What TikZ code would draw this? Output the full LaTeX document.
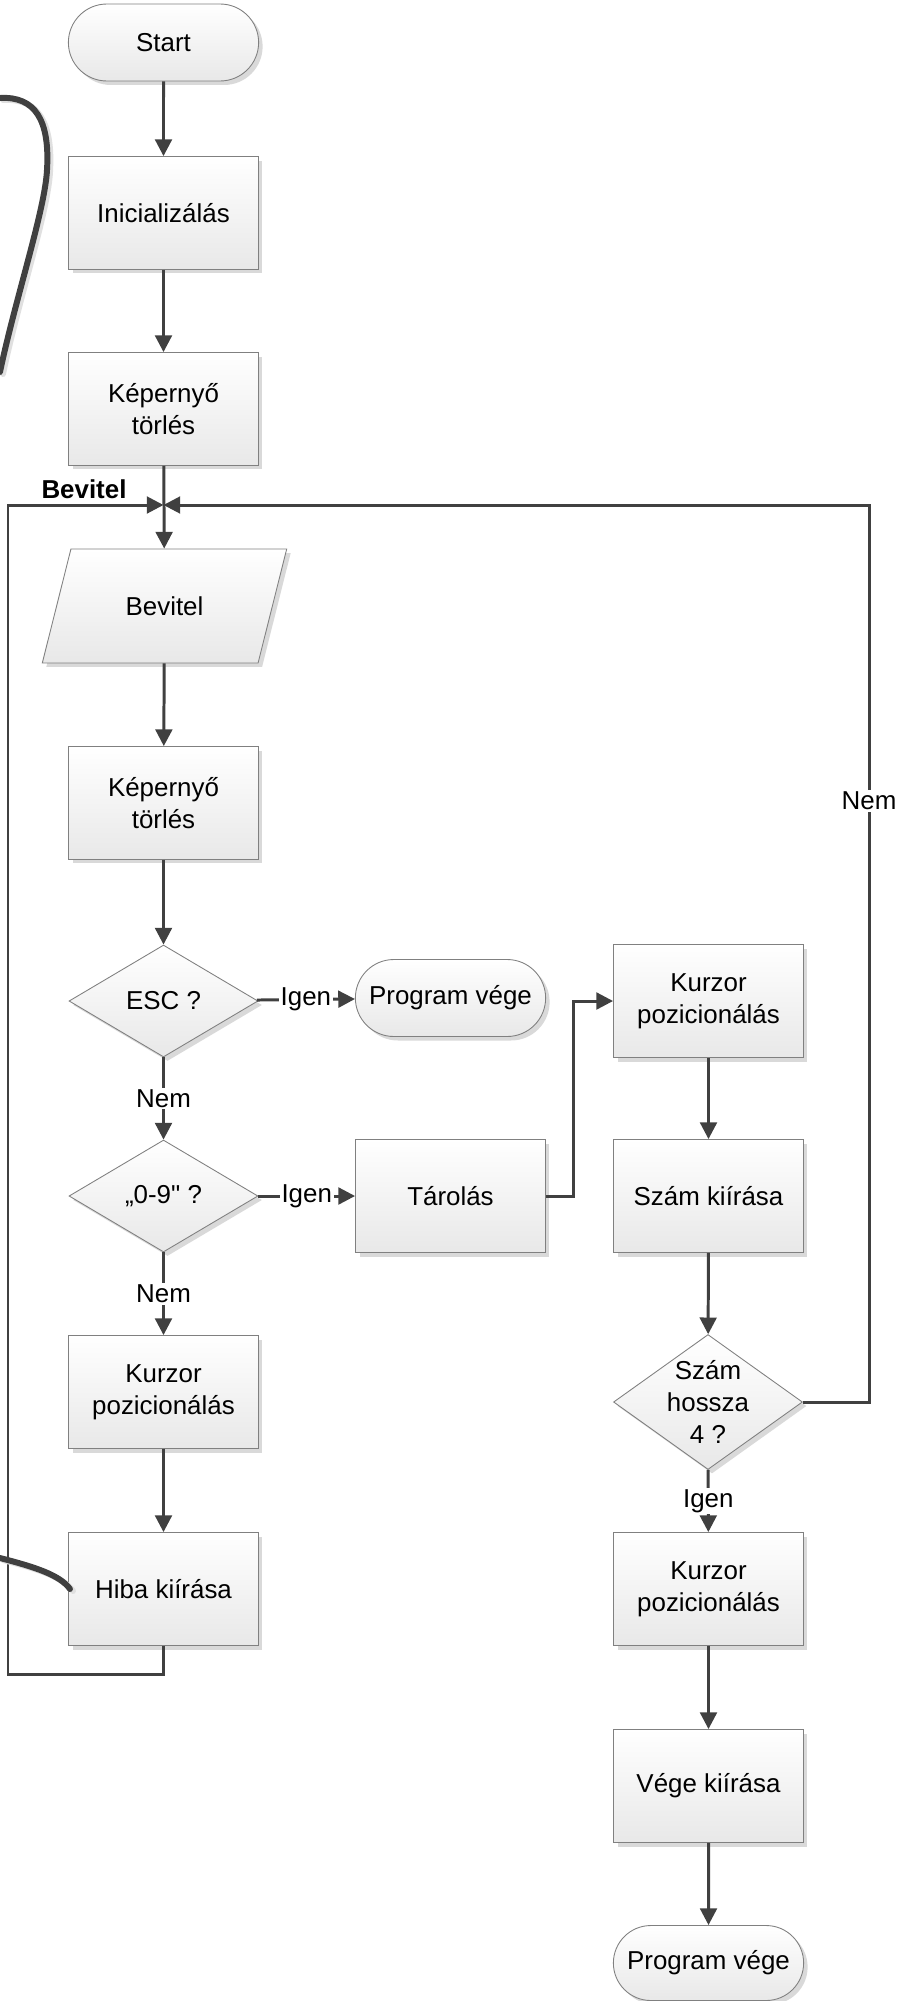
\documentclass[tikz,border=0pt]{standalone}
\usepackage{fontspec}
\setmainfont[Ligatures=TeXOff]{Liberation Sans}
\usetikzlibrary{shapes.geometric,shapes.misc,arrows.meta,shadows}
\definecolor{linegray}{HTML}{404040}
\definecolor{bordergray}{HTML}{808080}
\tikzset{
  base-node/.style  = {draw=bordergray, line width=0.5pt, top color=white,
                       bottom color=black!9, align=center,
                       drop shadow={shadow xshift=0.08cm, shadow yshift=-0.08cm,
                                    opacity=0.15, fill=black}},
  terminal/.style   = {base-node, rounded rectangle, minimum width=4.04cm, minimum height=1.54cm},
  process/.style    = {base-node, rectangle, minimum width=3.8cm, minimum height=2.26cm},
  decision/.style   = {base-node, diamond, aspect=1.5, inner sep=0pt,
                       minimum width=3.78cm, minimum height=2.24cm},
  io-node/.style    = {base-node, trapezium, trapezium left angle=66, trapezium right angle=114,
                       trapezium stretches=true, minimum width=4.9cm, minimum height=2.28cm},
  flow/.style       = {draw=linegray, line width=1.7pt, -{Triangle[length=9.5pt,width=9.5pt]}},
  edge-label/.style = {fill=white, inner sep=1pt},
  scribble/.style   = {draw=linegray, line width=3.4pt, line cap=round},
}

\begin{document}
\begin{tikzpicture}
  [
    x                 = 0.02cm,
    y                 = -0.02cm,
    every node/.style = {font=\fontsize{14.75}{18.2}\selectfont}
  ]
  \useasboundingbox (0,0) rectangle (900,2001);

  % left column
  \node [terminal] (start)  at (163.5,42.5) {Start};
  \node [process]  (init)   at (163.5,213)  {Inicializálás};
  \node [process]  (kep1)   at (163.5,409)  {Képernyő\\törlés};
  \node [io-node]  (bevitel) at (164.5,606) {Bevitel};
  \node [process]  (kep2)   at (163.5,803)  {Képernyő\\törlés};
  \node [decision] (esc)    at (163.5,1001) {ESC ?};
  \node [decision] (digit)  at (163.5,1196) {„0-9" ?};
  \node [process]  (kurz-l) at (163.5,1392) {Kurzor\\pozicionálás};
  \node [process]  (hiba)   at (163.5,1589) {Hiba kiírása};

  % middle column
  \node [terminal] (end1)   at (450.5,998)  {Program vége};
  \node [process]  (taro)   at (450.5,1196) {Tárolás};

  % right column
  \node [process]  (kurz-r1) at (708.5,1001) {Kurzor\\pozicionálás};
  \node [process]  (szam)    at (708.5,1196) {Szám kiírása};
  \node [decision, minimum height=2.7cm, inner ysep=-9pt] (hossz) at (708,1402) {Szám\\hossza\\4 ?};
  \node [process]  (kurz-r2) at (708.5,1589) {Kurzor\\pozicionálás};
  \node [process]  (vege)    at (708.5,1786) {Vége kiírása};
  \node [terminal, minimum height=1.5cm] (end2) at (708.5,1963) {Program vége};

  \node (bevitel-lbl) at (84,489) {\bfseries Bevitel};

  \coordinate (junc)    at (163.5,505);
  \coordinate (loop-lt) at (8,505);
  \coordinate (loop-lb) at (8,1674);
  \coordinate (loop-hb) at (163.5,1674);
  \coordinate (loop-rt) at (869,505);
  \coordinate (loop-rb) at (869,1402);

  % main flow
  \draw [flow] (start) -- (init);
  \draw [flow] (init) -- (kep1);
  \draw [flow] (kep1) -- (bevitel);
  \draw [flow] (bevitel) -- (kep2);
  \draw [flow] (kep2) -- (esc);
  \draw [flow] (esc) -- node [edge-label] {Igen} (end1);
  \draw [flow] (esc) -- node [edge-label] {Nem} (digit);
  \draw [flow] (digit) -- node [edge-label] {Igen} (taro);
  \draw [flow] (digit) -- node [edge-label] {Nem} (kurz-l);
  \draw [flow] (kurz-l) -- (hiba);
  \draw [flow] (taro.east) -- ++(28,0) |- (kurz-r1.west);
  \draw [flow] (kurz-r1) -- (szam);
  \draw [flow] (szam) -- (hossz);
  \draw [flow] (hossz) -- node [edge-label] {Igen} (kurz-r2);
  \draw [flow] (kurz-r2) -- (vege);
  \draw [flow] (vege) -- (end2);

  % loops back to input
  \draw [flow] (hiba) -- (loop-hb) -- (loop-lb) -- (loop-lt) -- (junc);
  \draw [flow] (hossz.east) -- (loop-rb)
               -- node [edge-label, pos=0.67] {Nem} (loop-rt) -- (junc);

  % stray strokes
  \begin{scope}[shift={(3,2)}]
    \draw [scribble, draw=black!12] (0,98) .. controls (35,96) and (50,120) .. (47,170)
                            .. controls (45,210) and (15,300) .. (0,372);
    \draw [scribble, draw=black!12] (0,1558) .. controls (35,1567) and (60,1575) .. (70,1589);
  \end{scope}
  \draw [scribble] (0,98) .. controls (35,96) and (50,120) .. (47,170)
                          .. controls (45,210) and (15,300) .. (0,372);
  \draw [scribble] (0,1558) .. controls (35,1567) and (60,1575) .. (70,1589);
\end{tikzpicture}
\end{document}
